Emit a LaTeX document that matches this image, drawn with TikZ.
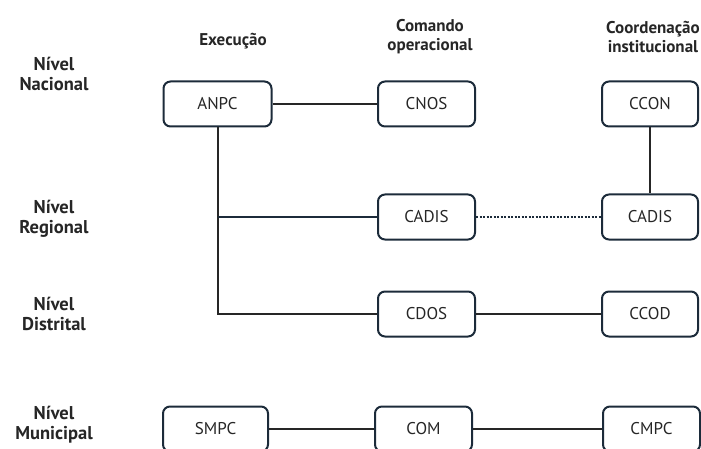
\documentclass[tikz,border=0pt]{standalone}
\usepackage{fontspec}
\setmainfont{PT Sans}
\begin{document}
\begin{tikzpicture}[x=1pt,y=-1pt,
  boxn/.style={draw=boxc,line width=2pt,rounded corners=7pt,minimum height=45pt,inner sep=0pt,font=\fontsize{17}{19}\selectfont,text=black!85},
  hdr/.style={font=\bfseries\fontsize{17}{20}\selectfont,align=center,text=black!85},
  lvl/.style={font=\bfseries\fontsize{18.5}{23}\selectfont,align=center,text=black!85},
  conn/.style={line width=2pt,draw=black!85}]
\definecolor{boxc}{HTML}{1C2B3A}
\useasboundingbox (0,0) rectangle (701,449);
% headers
\node[hdr] (hExe) at (233,41) {Execução};
\node[hdr] (hCom) at (430,37) {Comando\\[-1pt]operacional};
\node[hdr] (hCoo) at (653,37) {Coordenação\\[-1pt]institucional};
% level labels
\node[lvl] (lNac) at (54,74) {Nível\\[-3pt]Nacional};
\node[lvl] (lReg) at (54,219) {Nível\\[-3pt]Regional};
\node[lvl] (lDis) at (54,314) {Nível\\[-3pt]Distrital};
\node[lvl] (lMun) at (54,425) {Nível\\[-3pt]Municipal};
% boxes
\node[boxn,minimum width=108pt] (anpc) at (217.5,104) {ANPC};
\node[boxn,minimum width=97pt] (cnos) at (426.5,104) {CNOS};
\node[boxn,minimum width=96pt] (ccon) at (650,104) {CCON};
\node[boxn,minimum width=97pt] (cadis1) at (426.5,217) {CADIS};
\node[boxn,minimum width=96pt] (cadis2) at (650,217) {CADIS};
\node[boxn,minimum width=97pt] (cdos) at (426.5,314) {CDOS};
\node[boxn,minimum width=96pt] (ccod) at (650,314) {CCOD};
\node[boxn,minimum width=105pt] (smpc) at (215.5,429) {SMPC};
\node[boxn,minimum width=97pt] (com) at (423.5,429) {COM};
\node[boxn,minimum width=97pt] (cmpc) at (651.5,429) {CMPC};
% connectors
\coordinate (br) at (anpc.south |- cadis1.west);
\draw[conn] (anpc) -- (cnos);
\draw[conn] (anpc.south) |- (cdos.west);
\draw[conn,draw=boxc] (br) -- (cadis1.west);
\draw[conn] (ccon) -- (cadis2);
\draw[line width=2pt,draw=boxc,dash pattern=on 2pt off 1.5pt] (cadis1) -- (cadis2);
\draw[conn] (cdos) -- (ccod);
\draw[conn] (smpc) -- (com);
\draw[conn] (com) -- (cmpc);
\end{tikzpicture}
\end{document}
